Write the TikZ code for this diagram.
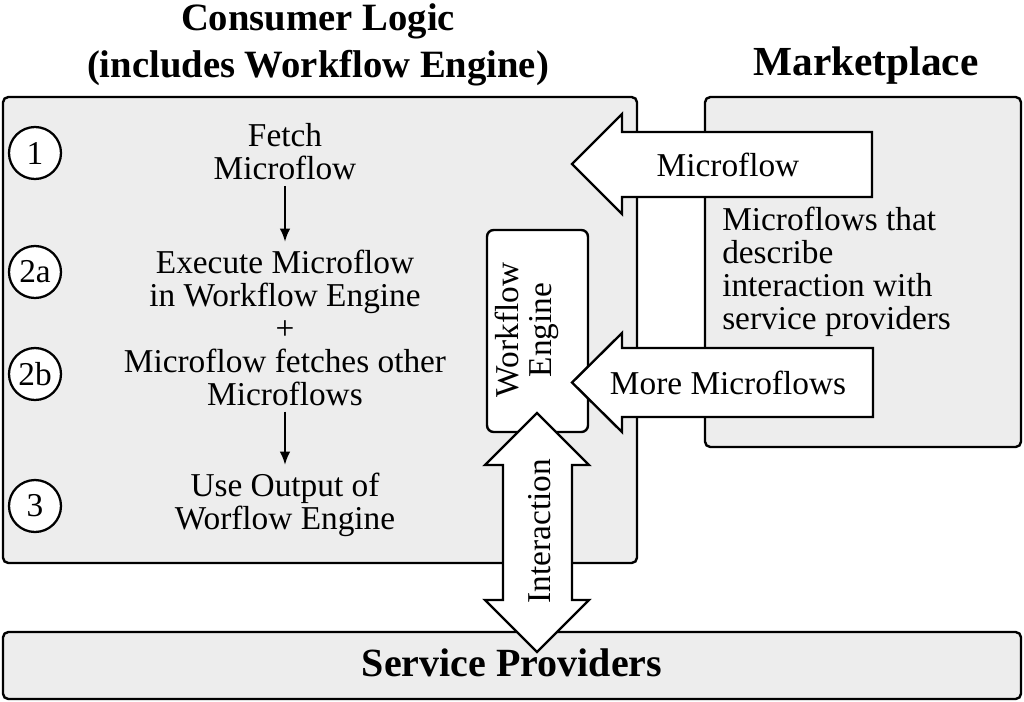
\documentclass[tikz,border=0pt]{standalone}
\usepackage{fontspec}
\setmainfont{Liberation Serif}
\usetikzlibrary{arrows.meta,fit}
\definecolor{boxgray}{RGB}{237,237,237}
\begin{document}
\begin{tikzpicture}[x=0.75pt,y=-0.75pt,
  panel/.style={draw=black, line width=1.8pt, fill=boxgray, rounded corners=4pt, inner sep=0pt},
  enginebox/.style={draw=black, line width=1.8pt, fill=white, rounded corners=5pt, inner sep=0pt},
  blockarrow/.style={draw=black, line width=1.8pt, fill=white, line join=miter},
  txt/.style={font=\fontsize{25}{24.75}\selectfont, align=center, inner sep=0pt},
  ltxt/.style={font=\fontsize{25}{24.75}\selectfont, align=left, inner sep=0pt},
  titletxt/.style={font=\fontsize{29}{35}\selectfont\bfseries, align=center, inner sep=0pt},
  numcirc/.style={circle, draw=black, line width=1.7pt, fill=white, minimum size=39pt, inner sep=0pt, font=\fontsize{25}{25}\selectfont},
  flowarrow/.style={-{Latex[length=10pt,width=8pt]}, line width=1.5pt}
]
\useasboundingbox (0,0) rectangle (1024,701);
% panels
\node[panel, fit={(3,97) (637,563)}] (consumer) {};
\node[panel, fit={(705,97) (1021,447)}] (market) {};
\node[panel, fit={(3,632) (1021,699)}] (providers) {};
\node[enginebox, fit={(487,230) (588,432)}] (engine) {};
% block arrows
\draw[blockarrow] (872,132) -- (622,132) -- (622,114) -- (572,164) -- (622,214) -- (622,197) -- (872,197) -- cycle;
\draw[blockarrow] (873,348) -- (622,348) -- (622,333) -- (572,382.5) -- (622,432) -- (622,417) -- (873,417) -- cycle;
\draw[blockarrow] (537,413) -- (589,465) -- (572,465) -- (572,600) -- (589,600) -- (537,652) -- (485,600) -- (503,600) -- (503,465) -- (485,465) -- cycle;
% labels in arrows
\node[txt] (lmicro) at (728,165) {Microflow};
\node[txt] (lmore) at (728,383) {More Microflows};
\node[txt, rotate=90] (linter) at (540,531) {Interaction};
\node[txt, rotate=90] (lengine) at (527,330) {Workflow\\Engine};
% titles
\node[titletxt] (tconsumer) at (318,45) {Consumer Logic\\(includes Workflow Engine)};
\node[titletxt, font=\fontsize{31}{35}\selectfont\bfseries] (tmarket) at (866,66) {Marketplace};
\node[titletxt, font=\fontsize{30}{35}\selectfont\bfseries] (tprov) at (512,663) {Service Providers};
% marketplace description
\node[ltxt, anchor=north west] (mdesc) at (722,207) {Microflows that\\describe\\interaction with\\service providers};
% step circles
\node[numcirc] (c1) at (35,153) {1};
\node[numcirc] (c2a) at (35,272) {2a};
\node[numcirc] (c2b) at (35,374) {2b};
\node[numcirc] (c3) at (35,506) {3};
% steps
\node[txt] (fetch) at (285,152) {Fetch\\Microflow};
\node[txt] (exec) at (285,328) {Execute Microflow\\in Workflow Engine\\+\\Microflow fetches other\\Microflows};
\node[txt] (use) at (285,505) {Use Output of\\Worflow Engine};
\draw[flowarrow, shorten <=4pt, shorten >=6pt] (fetch.south) -- (exec.north);
\draw[flowarrow, shorten <=4pt, shorten >=6pt] (exec.south) -- (use.north);
\end{tikzpicture}
\end{document}
